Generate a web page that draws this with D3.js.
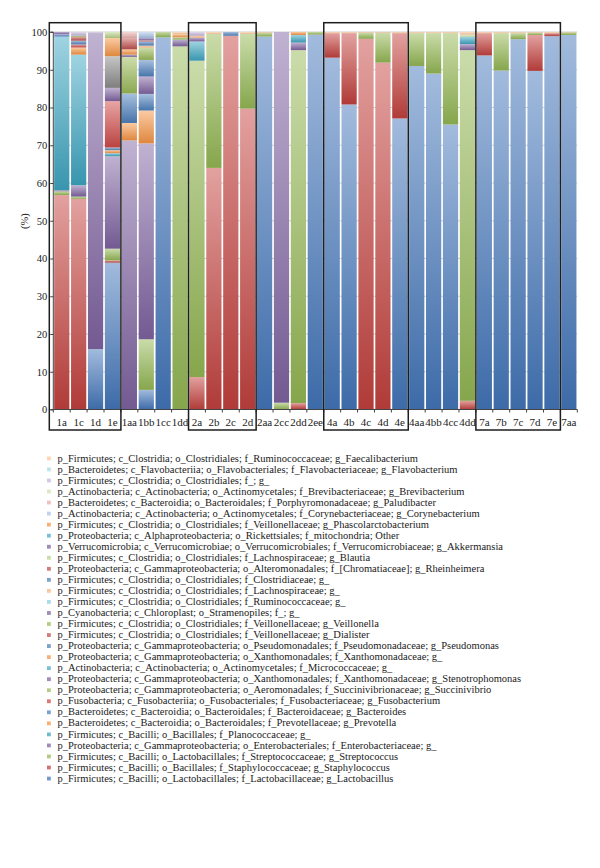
<!DOCTYPE html>
<html><head><meta charset="utf-8">
<script src="https://cdn.jsdelivr.net/npm/d3@7"></script>
<style>body{margin:0;background:#fff} svg{display:block}</style>
</head><body>
<svg id="chart" width="600" height="868"></svg>
<script>
// ---------- DATA ----------
const categories = ["1a","1c","1d","1e","1aa","1bb","1cc","1dd",
  "2a","2b","2c","2d","2aa","2cc","2dd","2ee",
  "4a","4b","4c","4d","4e","4aa","4bb","4cc","4dd",
  "7a","7b","7c","7d","7e","7aa"];

// legend order (top of legend = top of stack)
const taxa = [
  "p_Firmicutes; c_Clostridia; o_Clostridiales; f_Ruminococcaceae; g_Faecalibacterium",
  "p_Bacteroidetes; c_Flavobacteriia; o_Flavobacteriales; f_Flavobacteriaceae; g_Flavobacterium",
  "p_Firmicutes; c_Clostridia; o_Clostridiales; f_; g_",
  "p_Actinobacteria; c_Actinobacteria; o_Actinomycetales; f_Brevibacteriaceae; g_Brevibacterium",
  "p_Bacteroidetes; c_Bacteroidia; o_Bacteroidales; f_Porphyromonadaceae; g_Paludibacter",
  "p_Actinobacteria; c_Actinobacteria; o_Actinomycetales; f_Corynebacteriaceae; g_Corynebacterium",
  "p_Firmicutes; c_Clostridia; o_Clostridiales; f_Veillonellaceae; g_Phascolarctobacterium",
  "p_Proteobacteria; c_Alphaproteobacteria; o_Rickettsiales; f_mitochondria; Other",
  "p_Verrucomicrobia; c_Verrucomicrobiae; o_Verrucomicrobiales; f_Verrucomicrobiaceae; g_Akkermansia",
  "p_Firmicutes; c_Clostridia; o_Clostridiales; f_Lachnospiraceae; g_Blautia",
  "p_Proteobacteria; c_Gammaproteobacteria; o_Alteromonadales; f_[Chromatiaceae]; g_Rheinheimera",
  "p_Firmicutes; c_Clostridia; o_Clostridiales; f_Clostridiaceae; g_",
  "p_Firmicutes; c_Clostridia; o_Clostridiales; f_Lachnospiraceae; g_",
  "p_Firmicutes; c_Clostridia; o_Clostridiales; f_Ruminococcaceae; g_",
  "p_Cyanobacteria; c_Chloroplast; o_Stramenopiles; f_; g_",
  "p_Firmicutes; c_Clostridia; o_Clostridiales; f_Veillonellaceae; g_Veillonella",
  "p_Firmicutes; c_Clostridia; o_Clostridiales; f_Veillonellaceae; g_Dialister",
  "p_Proteobacteria; c_Gammaproteobacteria; o_Pseudomonadales; f_Pseudomonadaceae; g_Pseudomonas",
  "p_Proteobacteria; c_Gammaproteobacteria; o_Xanthomonadales; f_Xanthomonadaceae; g_",
  "p_Actinobacteria; c_Actinobacteria; o_Actinomycetales; f_Micrococcaceae; g_",
  "p_Proteobacteria; c_Gammaproteobacteria; o_Xanthomonadales; f_Xanthomonadaceae; g_Stenotrophomonas",
  "p_Proteobacteria; c_Gammaproteobacteria; o_Aeromonadales; f_Succinivibrionaceae; g_Succinivibrio",
  "p_Fusobacteria; c_Fusobacteriia; o_Fusobacteriales; f_Fusobacteriaceae; g_Fusobacterium",
  "p_Bacteroidetes; c_Bacteroidia; o_Bacteroidales; f_Bacteroidaceae; g_Bacteroides",
  "p_Bacteroidetes; c_Bacteroidia; o_Bacteroidales; f_Prevotellaceae; g_Prevotella",
  "p_Firmicutes; c_Bacilli; o_Bacillales; f_Planococcaceae; g_",
  "p_Proteobacteria; c_Gammaproteobacteria; o_Enterobacteriales; f_Enterobacteriaceae; g_",
  "p_Firmicutes; c_Bacilli; o_Lactobacillales; f_Streptococcaceae; g_Streptococcus",
  "p_Firmicutes; c_Bacilli; o_Bacillales; f_Staphylococcaceae; g_Staphylococcus",
  "p_Firmicutes; c_Bacilli; o_Lactobacillales; f_Lactobacillaceae; g_Lactobacillus"
];

// relative abundance (%) per sample, columns follow `categories`
//                        1a   1c   1d   1e   1aa  1bb  1cc  1dd   2a   2b   2c   2d   2aa  2cc  2dd  2ee   4a   4b   4c   4d   4e   4aa  4bb  4cc  4dd   7a   7b   7c   7d   7e   7aa
const faecalibacterium = [0,   0,   0,   0,   0,   0,   0,   0.6,  0,   0.5, 0,   0.5, 0.2, 0,   0,   0,    0.3, 0.3, 0.2, 0.2, 0.3, 0.3, 0.3, 0.3, 0.7,  0.3, 0.3, 0.3, 0.2, 0.3, 0.1];
const flavobacterium   = [0,   0,   0,   0,   0,   0,   0,   0,    0,   0,   0,   0,   0,   0,   0,   0,    0,   0,   0,   0,   0,   0,   0,   0,   0,    0,   0,   0,   0,   0,   0];
const clostridialesNA  = [0,   1.0, 0.5, 0,   0,   0,   0,   0,    1.0, 0,   0,   0,   0,   0,   0,   0,    0,   0,   0,   0,   0,   0,   0,   0,   0,    0,   0,   0,   0,   0,   0];
const brevibacterium   = [0,   0,   0,   0,   0,   0,   0,   0,    0,   0,   0,   0,   0,   0,   0,   0,    0,   0,   0,   0,   0,   0,   0,   0,   0.6,  0,   0,   0,   0,   0,   0];
const paludibacter     = [0,   0,   0,   0,   1.8, 0,   0,   0,    0,   0,   0,   0,   0,   0,   0,   0,    0,   0,   0,   0,   0,   0,   0,   0,   0,    0,   0,   0,   0,   0,   0];
const corynebacterium  = [0,   0,   0,   0,   0,   1.6, 0,   0,    0,   0,   0,   0,   0,   0,   0,   0,    0,   0,   0,   0,   0,   0,   0,   0,   0,    0,   0,   0,   0,   0,   0];
const phascolarcto     = [0,   0,   0,   0,   0,   0,   0,   0,    0,   0,   0,   0,   0,   0,   0,   0,    0,   0,   0,   0,   0,   0,   0,   0,   0,    0,   0,   0,   0,   0,   0];
const mitochondria     = [0,   0,   0,   0,   0,   0,   0,   0,    0,   0,   0,   0,   0,   0,   0,   0,    0,   0,   0,   0,   0,   0,   0,   0,   0,    0,   0,   0,   0,   0,   0];
const akkermansia      = [0.6, 0,   0,   0,   0,   0.6, 0,   0,    0,   0,   0,   0,   0,   0,   0,   0,    0,   0,   0,   0,   0,   0,   0,   0,   0,    0,   0,   0,   0,   0,   0];
const blautia          = [0,   0,   0,   1.6, 0,   0,   0,   0,    0,   0,   0,   0,   0,   0,   0,   0,    0,   0,   0,   0,   0,   0,   0,   0,   0,    0,   0,   0,   0,   0,   0];
const rheinheimera     = [0,   0,   0,   0,   0,   0.3, 0,   0,    0,   0,   0,   0,   0,   0,   0,   0,    0,   0,   0,   0,   0,   0,   0,   0,   0,    0,   0,   0,   0,   0,   0];
const clostridiaceae   = [0.6, 0,   0,   0,   0,   1.1, 0,   0,    0,   0,   0,   0,   0,   0,   0,   0,    0,   0,   0,   0,   0,   0,   0,   0,   0,    0,   0,   0,   0,   0,   0];
const lachnospiraceae  = [0,   0,   0,   0,   0,   0.5, 0,   0,    0.5, 0,   0,   0,   0,   0,   0,   0,    0,   0,   0,   0,   0,   0,   0,   0,   0,    0,   0,   0,   0,   0,   0];
const ruminococcaceae  = [0,   0,   0,   0,   0,   0,   0,   0,    0,   0,   0,   0,   0,   0,   0,   0,    0,   0,   0,   0,   0,   0,   0,   0,   0,    0,   0,   0,   0,   0,   0];
const chloroplast      = [0,   0,   0,   0,   0,   0,   0,   0,    0,   0,   0,   0,   0,   0,   0,   0,    0,   0,   0,   0,   0,   0,   0,   0,   0,    0,   0,   0,   0,   0,   0];
const veillonella      = [0,   0.3, 0,   0,   0,   3.3, 0,   0,    0,   0,   0,   0,   0,   0,   0,   0,    0,   0,   0,   0,   0,   0,   0,   0,   0,    0,   0,   0,   0,   0,   0];
const dialister        = [0,   1.0, 0,   0,   2.8, 0,   0,   0,    0,   0,   0,   0,   0,   0,   0,   0,    0,   0,   0,   0,   0,   0,   0,   0,   0,    0,   0,   0,   0,   0,   0];
const pseudomonas      = [0,   1.0, 0,   0,   0,   4.4, 0,   0,    0,   0,   1.0, 0,   0,   0,   0,   0,    0,   0,   0,   0,   0,   0,   0,   0,   0,    0,   0,   0,   0,   0,   0];
const xanthomonadaceae = [0,   0,   0,   4.8, 1.4, 0,   0,   0.8,  0,   0,   0,   0,   0,   0,   0,   0,    0,   0,   0,   0,   0,   0,   0,   0,   0,    0,   0,   0,   0,   0,   0];
const micrococcaceae   = [0,   0,   0,   8.4, 0,   0,   0,   0,    0,   0,   0,   0,   0,   0,   0,   0,    0,   0,   0,   0,   0,   0,   0,   0,   0,    0,   0,   0,   0,   0,   0];
const stenotrophomonas = [0,   0,   0,   3.5, 0.6, 4.6, 0,   0,    1.0, 0,   0,   0,   0,   0,   0,   0,    0,   0,   0,   0,   0,   0,   0,   0,   0,    0,   0,   0,   0,   0,   0];
const succinivibrio    = [0,   0,   0,   0,   9.7, 0,   0,   0.6,  0,   0,   0,   0,   0,   0,   0,   0,    0,   0,   0,   0,   0,   0,   0,   0,   0,    0,   0,   0,   0,   0,   0];
const fusobacterium    = [0,   0.8, 0,   12.3,0,   0,   0,   0,    0,   0,   0,   0,   0,   0,   0,   0,    0,   0,   0,   0,   0,   0,   0,   0,   0,    0,   0,   0,   0,   0,   0];
const bacteroides      = [0,   0,   0,   0.7, 7.8, 4.4, 0,   0,    0,   0,   0,   0,   0,   0,   0,   0,    0,   0,   0,   0,   0,   0,   0,   0,   0,    0,   0,   0,   0,   0,   0];
const prevotella       = [0,   1.9, 0,   0.8, 4.6, 8.7, 0,   0,    0,   0,   0,   0,   0,   0,   0.8, 0,    0,   0,   0,   0,   0,   0,   0,   0,   0,    0,   0,   0,   0,   0,   0];
const planococcaceae   = [40.7,34.6,0,   0.8, 0,   0,   0,   0,    5.1, 0,   0,   0,   0,   0,   2.0, 0,    0,   0,   0,   0,   0,   0,   0,   0,   1.9,  0,   0,   0,   0,   0,   0];
const enterobacteriaceae=[0.3, 3.0, 83.5,24.5,71.3,51.9,0,   1.8,  0,   0,   0,   0,   0,   98.2,2.0, 0,    0,   0,   0,   0,   0,   0,   0,   0,   1.6,  0,   0,   0,   0,   0,   0];
const streptococcus    = [1.0, 0.6, 0,   3.1, 0,   13.4,1.4, 96.2, 83.8,35.5,0,   19.8,1.0, 1.8, 93.5,0.7,  0,   0,   1.6, 7.9, 0,   8.7, 10.7,24.2,92.9, 0,   9.9, 1.6, 0.6, 0,   0.7];
const staphylococcus   = [56.8,55.8,0,   0.6, 0,   0,   0,   0,    8.6, 64.0,99.0,79.7,0,   0,   1.7, 0,    6.5, 18.9,98.2,91.9,22.6,0,   0,   0,   2.3,  5.9, 0,   0,   9.5, 0.8, 0];
const lactobacillus    = [0,   0,   16.0,38.9,0,   5.2, 98.6,0,    0,   0,   0,   0,   98.8,0,   0,   99.3, 93.2,80.8,0,   0,   77.1,91.0,89.0,75.5,0,    93.8,89.8,98.1,89.7,98.9,99.2];

const seriesValues = [faecalibacterium, flavobacterium, clostridialesNA, brevibacterium, paludibacter,
  corynebacterium, phascolarcto, mitochondria, akkermansia, blautia, rheinheimera, clostridiaceae,
  lachnospiraceae, ruminococcaceae, chloroplast, veillonella, dialister, pseudomonas, xanthomonadaceae,
  micrococcaceae, stenotrophomonas, succinivibrio, fusobacterium, bacteroides, prevotella,
  planococcaceae, enterobacteriaceae, streptococcus, staphylococcus, lactobacillus];

const yTicks = [0,10,20,30,40,50,60,70,80,90,100];
const boxedGroups = [["1a","1e"],["2a","2d"],["4a","4e"],["7a","7e"]];

// ---------- STYLE ----------
const taxonColors = ["#fbc79a","#a9d8e6","#c4b6da","#cfe2ad","#e8aeac","#aac4e6",
  "#f79646","#4bacc6","#8064a2","#b9d48a","#c0504d","#4f81bd",
  "#f9b47a","#8ccfe0","#8064a2","#9bbb59","#c0504d","#4f81bd",
  "#f79646","#8c8c8c","#8064a2","#9bbb59","#cf4b48","#4f81bd",
  "#f79646","#3ea6c2","#8064a2","#95b955","#c4423e","#4477bb"];
const legendColors = taxonColors.map((c,i)=> i===19 ? "#4bacc6" : c);

const svg = d3.select("#chart");
const FONT = "'Liberation Serif', 'Times New Roman', serif";
const x0 = 53.3, x1 = 577.3, yTop = 32, yBot = 409.5;

const x = d3.scaleBand().domain(categories).range([x0, x1]).paddingInner(0.1).paddingOuter(0.05);
const y = d3.scaleLinear().domain([0,100]).range([yBot, yTop]);

// gradients
const defs = svg.append("defs");
taxonColors.forEach((c,i)=>{
  const g = defs.append("linearGradient").attr("id","grad"+i)
    .attr("x1",0).attr("y1",0).attr("x2",0).attr("y2",1);
  g.append("stop").attr("offset","0%").attr("stop-color", d3.interpolateRgb(c,"#ffffff")(0.5));
  g.append("stop").attr("offset","100%").attr("stop-color", d3.rgb(c).darker(0.3).formatHex());
});

// gridlines
svg.append("g").selectAll("line").data(yTicks).join("line")
  .attr("x1", x0).attr("x2", x1)
  .attr("y1", d=>y(d)).attr("y2", d=>y(d))
  .attr("stroke", "#cfcfcf").attr("stroke-width", 1);

// stacked bars
const rows = categories.map((c,j)=>{
  const o = {cat:c};
  taxa.forEach((t,i)=>{ o[t] = seriesValues[i][j]; });
  return o;
});
const keys = taxa.slice().reverse(); // bottom of stack first
const stacked = d3.stack().keys(keys)(rows);

const layers = svg.append("g").selectAll("g").data(stacked).join("g")
  .attr("fill", d => "url(#grad" + taxa.indexOf(d.key) + ")");
layers.selectAll("rect").data(d => d.filter(s => s[1] - s[0] > 0)).join("rect")
  .attr("x", d => x(d.data.cat))
  .attr("width", x.bandwidth())
  .attr("y", d => y(d[1]))
  .attr("height", d => y(d[0]) - y(d[1]));

// y axis
const yAxis = d3.axisLeft(y).tickValues(yTicks).tickSize(3).tickPadding(3);
const gy = svg.append("g").attr("transform", `translate(${x0},0)`).call(yAxis);
gy.select(".domain").attr("stroke", "#444").attr("d", `M-3,${yTop}H0V${yBot}H-3`);
gy.selectAll(".tick line").attr("stroke", "#444");
gy.selectAll("text").attr("font-family", FONT).attr("font-size", 10.5).attr("fill", "#222");

// x axis: boundaries ticks + centred labels
const step = x.step();
const boundaries = d3.range(categories.length + 1).map(i => x0 + i * step);
svg.append("line").attr("x1", x0).attr("x2", x1).attr("y1", yBot).attr("y2", yBot)
  .attr("stroke", "#444");
svg.append("g").selectAll("line").data(boundaries).join("line")
  .attr("x1", d=>d).attr("x2", d=>d).attr("y1", yBot).attr("y2", yBot + 3)
  .attr("stroke", "#444");
svg.append("g").selectAll("text").data(categories).join("text")
  .attr("x", d => x(d) + x.bandwidth()/2)
  .attr("y", 426)
  .attr("text-anchor", "middle")
  .attr("font-family", FONT).attr("font-size", 11).attr("fill", "#222")
  .text(d => d);

// y label
svg.append("text").attr("transform", "translate(28,221) rotate(-90)")
  .attr("text-anchor", "middle").attr("font-family", FONT).attr("font-size", 10.5)
  .attr("fill", "#222").text("(%)");

// group boxes
svg.append("g").selectAll("rect").data(boxedGroups).join("rect")
  .attr("x", d => boundaries[categories.indexOf(d[0])] - (categories.indexOf(d[0]) === 0 ? 4 : 0))
  .attr("width", d => boundaries[categories.indexOf(d[1]) + 1] - boundaries[categories.indexOf(d[0])] + (categories.indexOf(d[0]) === 0 ? 4 : 0))
  .attr("y", 22.7).attr("height", 430 - 22.7)
  .attr("fill", "none").attr("stroke", "#1e1e1e").attr("stroke-width", 1.5);

// legend
const lg = svg.append("g").selectAll("g").data(taxa).join("g")
  .attr("transform", (d,i) => `translate(0,${461.5 + i * 11.04})`);
lg.append("rect").attr("x", 47).attr("y", -5).attr("width", 3.8).attr("height", 3.8)
  .attr("fill", (d,i) => d3.interpolateRgb(legendColors[i], "#fff")(0.25));
lg.append("text").attr("x", 57.5).attr("y", 0)
  .attr("font-family", FONT).attr("font-size", 10.5).attr("fill", "#1a1a1a")
  .text(d => d);
</script>
</body></html>
